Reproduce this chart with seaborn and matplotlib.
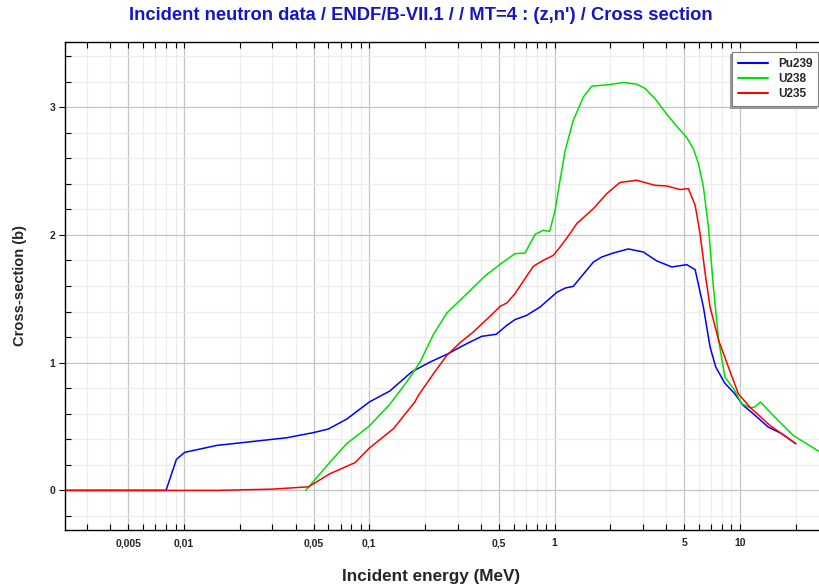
import numpy as np
import pandas as pd
import matplotlib
matplotlib.use("Agg")
import matplotlib.pyplot as plt
import seaborn as sns
from matplotlib.ticker import FixedLocator, NullFormatter, FixedFormatter
from matplotlib.font_manager import FontProperties

# Incident energy (MeV) and (z,n') cross sections (b)
pu239_e = [0.002, 0.008, 0.0091, 0.0101, 0.015, 0.0358, 0.0498, 0.060, 0.0755, 0.1,
           0.129, 0.169, 0.213, 0.262, 0.336, 0.404, 0.484, 0.552, 0.611, 0.706,
           0.834, 1.026, 1.14, 1.26, 1.62, 1.795, 2.07, 2.5, 3.01, 3.56, 4.29,
           5.16, 5.73, 6.35, 6.9, 7.4, 8.28, 9.37, 10.4, 11.8, 14.2, 16.8, 20.0]
pu239_xs = [0.0, 0.0, 0.243, 0.298, 0.352, 0.412, 0.452, 0.480, 0.558, 0.692,
            0.778, 0.927, 1.005, 1.065, 1.149, 1.206, 1.222, 1.292, 1.337, 1.370,
            1.435, 1.550, 1.584, 1.597, 1.788, 1.827, 1.858, 1.890, 1.866, 1.796, 1.749,
            1.767, 1.728, 1.435, 1.122, 0.966, 0.840, 0.757, 0.666, 0.600, 0.496, 0.444, 0.366]

u238_e = [0.0454, 0.0614, 0.0755, 0.1, 0.129, 0.159, 0.188, 0.222, 0.262, 0.336,
          0.421, 0.508, 0.611, 0.692, 0.785, 0.869, 0.94, 1.005, 1.07, 1.14, 1.26,
          1.43, 1.585, 1.99, 2.35, 2.77, 3.08, 3.48, 4.03, 4.56, 5.16, 5.6, 5.97,
          6.35, 6.76, 7.19, 7.67, 8.3, 9.37, 10.2, 11.3, 12.0, 12.9, 15.1, 19.4, 26.5, 30.0]
u238_xs = [0.0, 0.222, 0.366, 0.504, 0.674, 0.848, 1.005, 1.222, 1.389, 1.540,
           1.678, 1.770, 1.853, 1.858, 2.005, 2.036, 2.028, 2.190, 2.430, 2.660, 2.897,
           3.080, 3.164, 3.177, 3.193, 3.180, 3.146, 3.067, 2.944, 2.850, 2.762, 2.676, 2.558,
           2.375, 2.062, 1.592, 1.175, 0.887, 0.783, 0.679, 0.648, 0.652, 0.692, 0.587, 0.430, 0.308, 0.280]

u235_e = [0.002, 0.015, 0.03, 0.047, 0.0614, 0.0837, 0.1, 0.135, 0.176, 0.184,
          0.222, 0.262, 0.309, 0.364, 0.448, 0.508, 0.552, 0.611, 0.692, 0.767,
          0.869, 0.984, 1.07, 1.21, 1.315, 1.62, 1.91, 2.25, 2.77, 3.48, 4.03,
          4.75, 5.27, 5.73, 6.09, 6.49, 6.9, 7.67, 8.66, 9.8, 11.3, 14.5, 20.0]
u235_xs = [0.0, 0.0, 0.010, 0.028, 0.131, 0.217, 0.331, 0.483, 0.692, 0.744,
           0.914, 1.057, 1.157, 1.240, 1.363, 1.441, 1.467, 1.540, 1.658, 1.754,
           1.801, 1.840, 1.905, 2.010, 2.088, 2.206, 2.323, 2.410, 2.428, 2.388, 2.383,
           2.355, 2.362, 2.232, 2.010, 1.697, 1.435, 1.175, 0.966, 0.757, 0.652, 0.509, 0.366]

series_names = ["Pu239", "U238", "U235"]
series_colors = ["#0000ff", "#00e000", "#ff0000"]

x_major = [0.005, 0.01, 0.05, 0.1, 0.5, 1, 5, 10]
x_major_labels = ["0,005", "0,01", "0,05", "0,1", "0,5", "1", "5", "10"]
y_major = [0, 1, 2, 3]

frames = []
for name, e, xs in [("Pu239", pu239_e, pu239_xs), ("U238", u238_e, u238_xs), ("U235", u235_e, u235_xs)]:
    frames.append(pd.DataFrame({"energy": e, "xs": xs, "target": name}))
df = pd.concat(frames, ignore_index=True)

sns.set_theme(style="white")
plt.rcParams["font.family"] = ["Liberation Sans", "DejaVu Sans"]

fig = plt.figure(figsize=(8.19, 5.85), dpi=100)
ax = fig.add_axes([65 / 819, 1 - 530 / 585, (819 - 65) / 819, (530 - 42) / 585])

sns.lineplot(data=df, x="energy", y="xs", hue="target", hue_order=series_names,
             palette=series_colors, sort=False, estimator=None, linewidth=1.1, ax=ax)

ax.set_xscale("log")
ax.set_xlim(0.00228, 26.7)
ax.set_ylim(-0.31, 3.51)

# tick layout: labelled 1-5 majors, all other decade multiples as minors
minor_x = []
for dec in [0.001, 0.01, 0.1, 1, 10]:
    for m in range(1, 10):
        v = m * dec
        if 0.00228 <= v <= 26.7 and not any(abs(v - t) < 1e-9 for t in x_major):
            minor_x.append(v)
ax.xaxis.set_major_locator(FixedLocator(x_major))
ax.xaxis.set_major_formatter(FixedFormatter(x_major_labels))
ax.xaxis.set_minor_locator(FixedLocator(minor_x))
ax.xaxis.set_minor_formatter(NullFormatter())
ax.yaxis.set_major_locator(FixedLocator(y_major))
ax.yaxis.set_minor_locator(FixedLocator([v for v in np.arange(-0.2, 3.5, 0.2) if abs(v - round(v)) > 1e-6]))

ax.grid(which="major", color="#c4c4c4", linewidth=0.9)
ax.grid(which="minor", color="#ececec", linewidth=0.9)
ax.set_axisbelow(True)

tick_font = FontProperties(family=["Liberation Sans Narrow", "Liberation Sans"], weight="bold", size=7.5)
ax.tick_params(axis="x", which="both", direction="in", top=True, bottom=True,
               length=4, width=0.8, color="black", pad=6)
ax.tick_params(axis="y", which="major", direction="out", left=True, length=4, width=0.8, color="black", pad=3)
ax.tick_params(axis="y", which="minor", direction="in", left=True, length=4, width=0.8, color="black")
for lab in ax.get_xticklabels() + ax.get_yticklabels():
    lab.set_fontproperties(tick_font)

for side in ["left", "bottom", "top"]:
    ax.spines[side].set_color("black")
    ax.spines[side].set_linewidth(1.0)
ax.spines["right"].set_visible(False)

ax.set_xlabel("Incident energy (MeV)", fontsize=12.3, fontweight="bold")
ax.xaxis.set_label_coords((431 - 65) / 754, -(576 - 530) / 488)
ax.xaxis.label.set_va("center")
ax.set_ylabel("Cross-section (b)", fontsize=10.5, fontweight="bold", labelpad=16)
fig.suptitle("Incident neutron data / ENDF/B-VII.1 / / MT=4 : (z,n') / Cross section",
             x=421 / 819, y=1 - 16 / 585, va="center",
             fontsize=13.2, fontweight="bold", color="#1414c8")

leg = ax.legend(loc="upper right", bbox_to_anchor=(0.999, 0.9795), borderaxespad=0.0,
                frameon=True, fancybox=False,
                shadow={"ox": -1.5, "oy": -1.5, "color": "#9a9a9a", "alpha": 1.0},
                prop=dict(weight="bold", size=8.5), handlelength=2.55,
                borderpad=0.5, labelspacing=0.27, handletextpad=0.85)
leg.get_frame().set_edgecolor("#808080")
leg.get_frame().set_linewidth(0.8)
for line in leg.get_lines():
    line.set_linewidth(1.5)

fig.savefig("out.png", dpi=100)
